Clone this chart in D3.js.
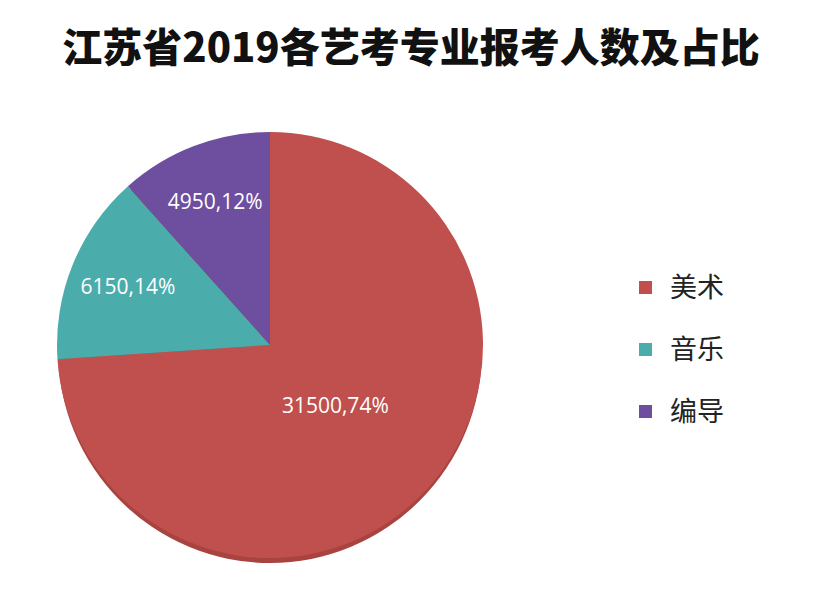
<!DOCTYPE html>
<html><head><meta charset="utf-8">
<script src="https://cdn.jsdelivr.net/npm/d3@7"></script>
<style>body{margin:0;background:#fff}</style>
</head><body>
<svg id="chart" width="826" height="598"></svg>
<script>
// chart data
var categories = ["美术", "音乐", "编导"];
var values = [31500, 6150, 4950];
var percents = ["74%", "14%", "12%"];
var colors = ["#C0504D", "#4BACAC", "#6E4E9E"];

var svg = d3.select("#chart");
var cx = 270, cy = 345, r = 213;

svg.append("text")
    .attr("x", 411).attr("y", 62)
    .attr("text-anchor", "middle")
    .attr("font-family", "Noto Sans CJK SC")
    .attr("font-weight", "900")
    .attr("font-size", 40)
    .attr("fill", "#111")
    .text("江苏省2019各艺考专业报考人数及占比");

var pie = d3.pie().sort(null).value(function (d) { return d; });
var arcs = pie(values);
var arc = d3.arc().innerRadius(0).outerRadius(r);

// labels sit further out for small slices
function labelPos(d) {
    var k = (d.endAngle - d.startAngle) > Math.PI ? 0.42 : 0.72;
    return d3.arc().innerRadius(r * k).outerRadius(r * k).centroid(d);
}

// darker rim under the pie
svg.append("ellipse")
    .attr("cx", cx).attr("cy", cy + 5)
    .attr("rx", r - 1).attr("ry", r)
    .attr("fill", "#a8433f");

var g = svg.append("g").attr("transform", "translate(" + cx + "," + cy + ")");
g.selectAll("path")
    .data(arcs)
    .enter()
    .append("path")
    .attr("d", arc)
    .attr("fill", function (d, i) { return colors[i]; });

g.selectAll("text")
    .data(arcs)
    .enter()
    .append("text")
    .attr("transform", function (d) { return "translate(" + labelPos(d) + ")"; })
    .attr("text-anchor", "middle")
    .attr("dy", "0.35em")
    .attr("fill", "#fff")
    .attr("font-family", "Open Sans")
    .attr("font-size", 21)
    .text(function (d, i) { return d.data + "," + percents[i]; });

// legend
var legend = svg.append("g");
legend.selectAll("rect")
    .data(categories)
    .enter()
    .append("rect")
    .attr("x", 639).attr("y", function (d, i) { return 281 + i * 62; })
    .attr("width", 13).attr("height", 13)
    .attr("fill", function (d, i) { return colors[i]; });
legend.selectAll("text")
    .data(categories)
    .enter()
    .append("text")
    .attr("x", 670).attr("y", function (d, i) { return 288 + i * 62; })
    .attr("dy", "0.35em")
    .attr("font-family", "Noto Sans CJK SC")
    .attr("font-size", 27)
    .attr("fill", "#222")
    .text(function (d) { return d; });
</script>
</body></html>
